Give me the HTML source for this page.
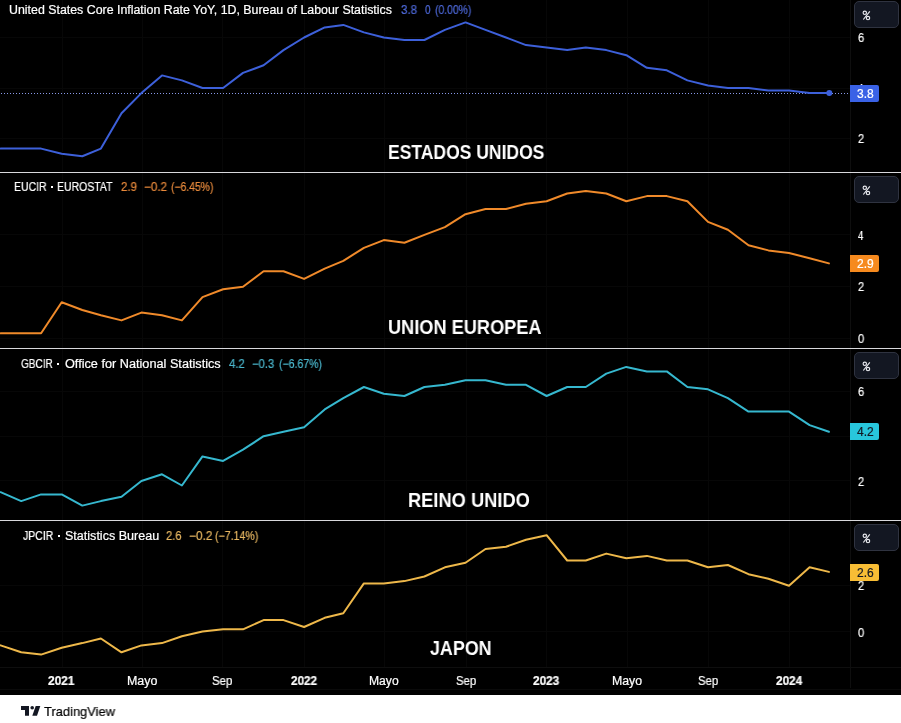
<!DOCTYPE html>
<html><head><meta charset="utf-8">
<style>
html,body{margin:0;padding:0;}
body{width:901px;height:723px;position:relative;overflow:hidden;background:#000;font-family:"Liberation Sans",sans-serif;}
.a{position:absolute;white-space:pre;line-height:1;will-change:transform;-webkit-text-stroke:0.2px currentColor;}
.btn{position:absolute;left:854px;width:43px;height:25px;border:1px solid #2f3340;border-radius:5px;background:#131722;}
</style></head>
<body>
<svg width="901" height="723" style="position:absolute;left:0;top:0">
  <g stroke="#070707" stroke-width="1"><line x1="62.5" y1="0" x2="62.5" y2="667"/><line x1="142.5" y1="0" x2="142.5" y2="667"/><line x1="222.5" y1="0" x2="222.5" y2="667"/><line x1="304.5" y1="0" x2="304.5" y2="667"/><line x1="384.5" y1="0" x2="384.5" y2="667"/><line x1="466.5" y1="0" x2="466.5" y2="667"/><line x1="546.5" y1="0" x2="546.5" y2="667"/><line x1="627.5" y1="0" x2="627.5" y2="667"/><line x1="708.5" y1="0" x2="708.5" y2="667"/><line x1="789.5" y1="0" x2="789.5" y2="667"/><line x1="0" y1="138.5" x2="850" y2="138.5"/><line x1="0" y1="88.5" x2="850" y2="88.5"/><line x1="0" y1="37.5" x2="850" y2="37.5"/><line x1="0" y1="338.5" x2="850" y2="338.5"/><line x1="0" y1="286.5" x2="850" y2="286.5"/><line x1="0" y1="234.5" x2="850" y2="234.5"/><line x1="0" y1="480.5" x2="850" y2="480.5"/><line x1="0" y1="436.5" x2="850" y2="436.5"/><line x1="0" y1="391.5" x2="850" y2="391.5"/><line x1="0" y1="631.5" x2="850" y2="631.5"/><line x1="0" y1="585.5" x2="850" y2="585.5"/></g>
  <line x1="850.5" y1="0" x2="850.5" y2="688" stroke="#0e0e0e" stroke-width="1"/>
  <line x1="0" y1="667.5" x2="901" y2="667.5" stroke="#0e0e0e" stroke-width="1"/><line x1="0" y1="689.5" x2="901" y2="689.5" stroke="#0a0a0a" stroke-width="1"/>
  <line x1="0" y1="172.5" x2="901" y2="172.5" stroke="#d8d8dc" stroke-width="1"/>
  <line x1="0" y1="348.5" x2="901" y2="348.5" stroke="#d8d8dc" stroke-width="1"/>
  <line x1="0" y1="520.5" x2="901" y2="520.5" stroke="#d8d8dc" stroke-width="1"/>
  <line x1="1" y1="93.5" x2="850" y2="93.5" stroke="#8898e8" stroke-width="1" stroke-dasharray="1 2"/>
  <g fill="none" stroke-width="2" stroke-linejoin="round" stroke-linecap="round">
    <polyline stroke="#3d60da" points="0.6,148.6 21.2,148.6 41.1,148.6 61.7,153.7 82.3,156.2 100.9,148.6 121.5,113.2 141.4,93.1 162.0,75.4 181.9,80.4 202.5,88.0 223.1,88.0 243.0,72.9 263.6,65.3 283.5,50.1 304.1,37.5 324.7,27.4 343.3,24.9 363.9,32.4 383.8,37.5 404.4,40.0 424.4,40.0 444.9,29.9 465.5,22.4 485.5,29.9 506.0,37.5 526.0,45.1 546.6,47.6 567.2,50.1 585.8,47.6 606.3,50.1 626.3,55.2 646.9,67.8 666.8,70.3 687.4,80.4 708.0,85.5 727.9,88.0 748.5,88.0 768.4,90.5 789.0,90.5 809.6,93.1 828.9,93.1"/>
    <polyline stroke="#f08a2a" points="0.6,333.3 21.2,333.3 41.1,333.3 61.7,302.2 82.3,310.0 100.9,315.2 121.5,320.4 141.4,312.6 162.0,315.2 181.9,320.4 202.5,297.1 223.1,289.3 243.0,286.7 263.6,271.2 283.5,271.2 304.1,278.9 324.7,268.6 343.3,260.8 363.9,247.9 383.8,240.1 404.4,242.7 424.4,234.9 444.9,227.1 465.5,214.2 485.5,209.0 506.0,209.0 526.0,203.8 546.6,201.2 567.2,193.5 585.8,190.9 606.3,193.5 626.3,201.2 646.9,196.1 666.8,196.1 687.4,201.2 708.0,221.9 727.9,229.7 748.5,245.3 768.4,250.4 789.0,253.0 809.6,258.2 828.9,263.4"/>
    <polyline stroke="#36b8cf" points="0.6,492.2 21.2,501.1 41.1,494.4 61.7,494.4 82.3,505.6 100.9,501.1 121.5,496.7 141.4,481.0 162.0,474.3 181.9,485.5 202.5,456.4 223.1,460.9 243.0,449.7 263.6,436.2 283.5,431.8 304.1,427.3 324.7,409.4 343.3,398.2 363.9,387.0 383.8,393.7 404.4,396.0 424.4,387.0 444.9,384.8 465.5,380.3 485.5,380.3 506.0,384.8 526.0,384.8 546.6,396.0 567.2,387.0 585.8,387.0 606.3,373.6 626.3,366.9 646.9,371.4 666.8,371.4 687.4,387.0 708.0,389.3 727.9,398.2 748.5,411.6 768.4,411.6 789.0,411.6 809.6,425.1 828.9,431.8"/>
    <polyline stroke="#eeb84a" points="0.6,645.4 21.2,652.3 41.1,654.6 61.7,647.7 82.3,643.1 100.9,638.5 121.5,652.3 141.4,645.4 162.0,643.1 181.9,636.2 202.5,631.6 223.1,629.3 243.0,629.3 263.6,620.1 283.5,620.1 304.1,627.0 324.7,617.8 343.3,613.2 363.9,583.4 383.8,583.4 404.4,581.1 424.4,576.5 444.9,567.3 465.5,562.8 485.5,549.0 506.0,546.7 526.0,539.8 546.6,535.2 567.2,560.5 585.8,560.5 606.3,553.6 626.3,558.2 646.9,555.9 666.8,560.5 687.4,560.5 708.0,567.3 727.9,565.0 748.5,574.2 768.4,578.8 789.0,585.7 809.6,567.3 828.9,571.9"/>
  </g>
  <circle cx="829.3" cy="93" r="3" fill="#3d60da"/>
</svg>
<div class="a" style="left:8.97px;top:4.40px;font-size:12px;font-weight:400;color:#ffffff;transform:scaleX(1.0311);transform-origin:0 0;">United States Core Inflation Rate YoY, 1D, Bureau of Labour Statistics</div>
<div class="a" style="left:400.80px;top:4.40px;font-size:12px;font-weight:400;color:#4d68d8;transform:scaleX(0.9625);transform-origin:0 0;">3.8</div>
<div class="a" style="left:425.00px;top:4.40px;font-size:12px;font-weight:400;color:#4d68d8;transform:scaleX(0.8333);transform-origin:0 0;">0</div>
<div class="a" style="left:434.94px;top:4.40px;font-size:12px;font-weight:400;color:#4d68d8;transform:scaleX(0.8634);transform-origin:0 0;">(0.00%)</div>
<div class="a" style="left:13.73px;top:181.30px;font-size:12px;font-weight:400;color:#ffffff;transform:scaleX(0.8722);transform-origin:0 0;">EUCIR</div>
<div style="position:absolute;left:51px;top:186px;width:2px;height:2px;background:#ffffff"></div>
<div class="a" style="left:56.73px;top:181.30px;font-size:12px;font-weight:400;color:#ffffff;transform:scaleX(0.8730);transform-origin:0 0;">EUROSTAT</div>
<div class="a" style="left:120.50px;top:181.30px;font-size:12px;font-weight:400;color:#e88a3c;transform:scaleX(0.9563);transform-origin:0 0;">2.9</div>
<div class="a" style="left:143.93px;top:181.30px;font-size:12px;font-weight:400;color:#e88a3c;transform:scaleX(0.9727);transform-origin:0 0;">−0.2</div>
<div class="a" style="left:170.94px;top:181.30px;font-size:12px;font-weight:400;color:#e88a3c;transform:scaleX(0.8646);transform-origin:0 0;">(−6.45%)</div>
<div class="a" style="left:20.90px;top:358.00px;font-size:12px;font-weight:400;color:#ffffff;transform:scaleX(0.8378);transform-origin:0 0;">GBCIR</div>
<div style="position:absolute;left:57px;top:363px;width:2px;height:2px;background:#ffffff"></div>
<div class="a" style="left:64.50px;top:358.00px;font-size:12px;font-weight:400;color:#ffffff;transform:scaleX(1.0578);transform-origin:0 0;">Office for National Statistics</div>
<div class="a" style="left:228.90px;top:358.00px;font-size:12px;font-weight:400;color:#4ab6cc;transform:scaleX(0.9437);transform-origin:0 0;">4.2</div>
<div class="a" style="left:252.46px;top:358.00px;font-size:12px;font-weight:400;color:#4ab6cc;transform:scaleX(0.9364);transform-origin:0 0;">−0.3</div>
<div class="a" style="left:278.92px;top:358.00px;font-size:12px;font-weight:400;color:#4ab6cc;transform:scaleX(0.8771);transform-origin:0 0;">(−6.67%)</div>
<div class="a" style="left:23.10px;top:529.90px;font-size:12px;font-weight:400;color:#ffffff;transform:scaleX(0.8735);transform-origin:0 0;">JPCIR</div>
<div style="position:absolute;left:58px;top:535px;width:2px;height:2px;background:#ffffff"></div>
<div class="a" style="left:64.55px;top:529.90px;font-size:12px;font-weight:400;color:#ffffff;transform:scaleX(1.0455);transform-origin:0 0;">Statistics Bureau</div>
<div class="a" style="left:165.70px;top:529.90px;font-size:12px;font-weight:400;color:#e8b862;transform:scaleX(0.9313);transform-origin:0 0;">2.6</div>
<div class="a" style="left:188.51px;top:529.90px;font-size:12px;font-weight:400;color:#e8b862;transform:scaleX(0.9864);transform-origin:0 0;">−0.2</div>
<div class="a" style="left:215.02px;top:529.90px;font-size:12px;font-weight:400;color:#e8b862;transform:scaleX(0.8833);transform-origin:0 0;">(−7.14%)</div>
<div class="a" style="left:387.50px;top:143.00px;font-size:19.5px;font-weight:700;color:#fff;transform:scaleX(0.8983);transform-origin:0 0;-webkit-text-stroke:0;">ESTADOS UNIDOS</div>
<div class="a" style="left:388.07px;top:318.00px;font-size:19.5px;font-weight:700;color:#fff;transform:scaleX(0.9325);transform-origin:0 0;-webkit-text-stroke:0;">UNION EUROPEA</div>
<div class="a" style="left:408.06px;top:490.90px;font-size:19.5px;font-weight:700;color:#fff;transform:scaleX(0.9375);transform-origin:0 0;-webkit-text-stroke:0;">REINO UNIDO</div>
<div class="a" style="left:430.00px;top:639.20px;font-size:19.5px;font-weight:700;color:#fff;transform:scaleX(0.9167);transform-origin:0 0;-webkit-text-stroke:0;">JAPON</div>
<div class="a" style="left:48.30px;top:675.30px;font-size:12px;font-weight:700;color:#fff;transform:scaleX(0.9889);transform-origin:0 0;">2021</div>
<div class="a" style="left:126.56px;top:675.30px;font-size:12px;font-weight:400;color:#ffffff;transform:scaleX(1.0357);transform-origin:0 0;">Mayo</div>
<div class="a" style="left:212.05px;top:675.30px;font-size:12px;font-weight:400;color:#ffffff;transform:scaleX(0.9500);transform-origin:0 0;">Sep</div>
<div class="a" style="left:290.70px;top:675.30px;font-size:12px;font-weight:700;color:#fff;transform:scaleX(0.9741);transform-origin:0 0;">2022</div>
<div class="a" style="left:368.99px;top:675.30px;font-size:12px;font-weight:400;color:#ffffff;transform:scaleX(1.0107);transform-origin:0 0;">Mayo</div>
<div class="a" style="left:455.66px;top:675.30px;font-size:12px;font-weight:400;color:#ffffff;transform:scaleX(0.9450);transform-origin:0 0;">Sep</div>
<div class="a" style="left:532.50px;top:675.30px;font-size:12px;font-weight:700;color:#fff;transform:scaleX(0.9815);transform-origin:0 0;">2023</div>
<div class="a" style="left:611.77px;top:675.30px;font-size:12px;font-weight:400;color:#ffffff;transform:scaleX(1.0250);transform-origin:0 0;">Mayo</div>
<div class="a" style="left:697.65px;top:675.30px;font-size:12px;font-weight:400;color:#ffffff;transform:scaleX(0.9450);transform-origin:0 0;">Sep</div>
<div class="a" style="left:776.00px;top:675.30px;font-size:12px;font-weight:700;color:#fff;transform:scaleX(0.9815);transform-origin:0 0;">2024</div>
<div class="a" style="left:857.80px;top:32.00px;font-size:12px;font-weight:400;color:#ffffff;transform:scaleX(0.9167);transform-origin:0 0;">6</div>
<div class="a" style="left:857.80px;top:82.50px;font-size:12px;font-weight:400;color:#ffffff;transform:scaleX(0.7857);transform-origin:0 0;">4</div>
<div class="a" style="left:857.80px;top:133.00px;font-size:12px;font-weight:400;color:#ffffff;transform:scaleX(0.9167);transform-origin:0 0;">2</div>
<div class="a" style="left:857.80px;top:229.50px;font-size:12px;font-weight:400;color:#ffffff;transform:scaleX(0.7857);transform-origin:0 0;">4</div>
<div class="a" style="left:857.80px;top:281.00px;font-size:12px;font-weight:400;color:#ffffff;transform:scaleX(0.9167);transform-origin:0 0;">2</div>
<div class="a" style="left:857.80px;top:333.40px;font-size:12px;font-weight:400;color:#ffffff;transform:scaleX(0.9167);transform-origin:0 0;">0</div>
<div class="a" style="left:857.80px;top:386.30px;font-size:12px;font-weight:400;color:#ffffff;transform:scaleX(0.9167);transform-origin:0 0;">6</div>
<div class="a" style="left:857.80px;top:475.60px;font-size:12px;font-weight:400;color:#ffffff;transform:scaleX(0.9167);transform-origin:0 0;">2</div>
<div class="a" style="left:857.80px;top:580.20px;font-size:12px;font-weight:400;color:#ffffff;transform:scaleX(0.9167);transform-origin:0 0;">2</div>
<div class="a" style="left:857.80px;top:626.50px;font-size:12px;font-weight:400;color:#ffffff;transform:scaleX(0.9167);transform-origin:0 0;">0</div>
<div class="btn" style="top:1px"></div><svg width="12" height="14" viewBox="0 0 12 14" style="position:absolute;left:860px;top:7.3px"><g stroke="#e8e9ee" stroke-width="1.15" fill="none"><circle cx="4.8" cy="5.8" r="1.7"/><circle cx="8" cy="11" r="1.7"/><line x1="3.3" y1="12.5" x2="9.8" y2="4.3"/></g></svg><div class="btn" style="top:176px"></div><svg width="12" height="14" viewBox="0 0 12 14" style="position:absolute;left:860px;top:182.3px"><g stroke="#e8e9ee" stroke-width="1.15" fill="none"><circle cx="4.8" cy="5.8" r="1.7"/><circle cx="8" cy="11" r="1.7"/><line x1="3.3" y1="12.5" x2="9.8" y2="4.3"/></g></svg><div class="btn" style="top:352px"></div><svg width="12" height="14" viewBox="0 0 12 14" style="position:absolute;left:860px;top:358.3px"><g stroke="#e8e9ee" stroke-width="1.15" fill="none"><circle cx="4.8" cy="5.8" r="1.7"/><circle cx="8" cy="11" r="1.7"/><line x1="3.3" y1="12.5" x2="9.8" y2="4.3"/></g></svg><div class="btn" style="top:524px"></div><svg width="12" height="14" viewBox="0 0 12 14" style="position:absolute;left:860px;top:530.3px"><g stroke="#e8e9ee" stroke-width="1.15" fill="none"><circle cx="4.8" cy="5.8" r="1.7"/><circle cx="8" cy="11" r="1.7"/><line x1="3.3" y1="12.5" x2="9.8" y2="4.3"/></g></svg>
<div style="position:absolute;left:850px;top:85px;width:29px;height:17px;background:#3a62e6;border-radius:0 2px 2px 0"></div>
<div class="a" style="left:857.30px;top:87.80px;font-size:12px;color:#fff">3.8</div>
<div style="position:absolute;left:850px;top:255px;width:29px;height:17px;background:#f68a1e;border-radius:0 2px 2px 0"></div>
<div class="a" style="left:857.30px;top:257.90px;font-size:12px;color:#fff">2.9</div>
<div style="position:absolute;left:850px;top:423px;width:29px;height:17px;background:#28c6dc;border-radius:0 2px 2px 0"></div>
<div class="a" style="left:857.30px;top:426.00px;font-size:12px;color:#131722">4.2</div>
<div style="position:absolute;left:850px;top:564px;width:29px;height:17px;background:#f8bd35;border-radius:0 2px 2px 0"></div>
<div class="a" style="left:857.30px;top:566.70px;font-size:12px;color:#131722">2.6</div>
<div style="position:absolute;left:0;top:695px;width:901px;height:28px;background:#fff"></div>
<svg width="26" height="12" style="position:absolute;left:20px;top:705px" viewBox="0 0 26 12">
  <path d="M1 1H9V10.7H5V5H1Z" fill="#131722"/>
  <circle cx="12.2" cy="2.8" r="1.8" fill="#131722"/>
  <path d="M15.7 1H20.3L17 10.7H12.3Z" fill="#131722"/>
</svg>
<div class="a" style="left:44.40px;top:704.70px;font-size:13px;font-weight:400;color:#000;transform:scaleX(0.9917);transform-origin:0 0;">TradingView</div>
</body></html>
